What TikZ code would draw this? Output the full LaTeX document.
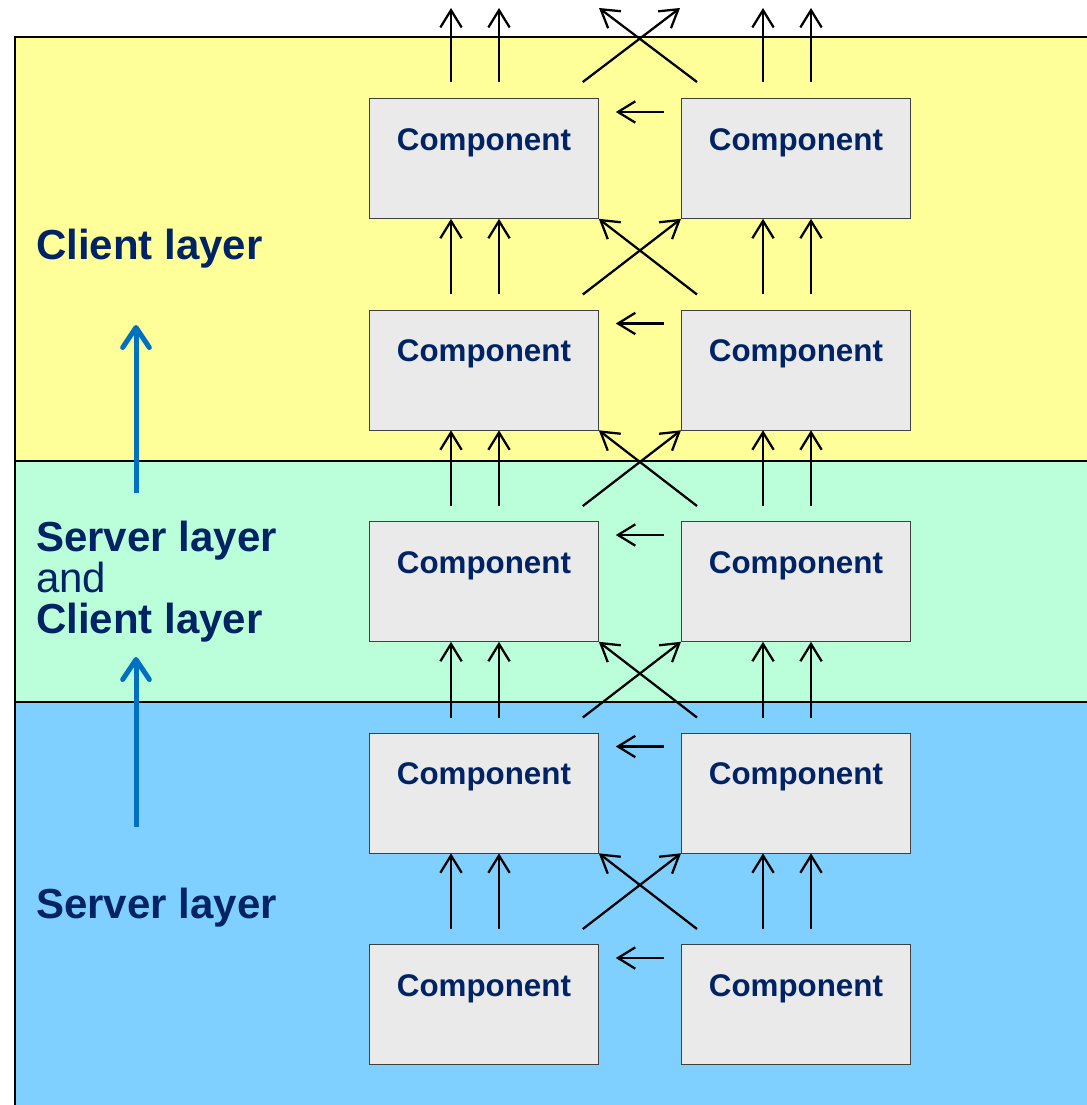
\documentclass[tikz,border=0pt]{standalone}
\usepackage{fontspec}
\setmainfont{Liberation Sans}
\usetikzlibrary{arrows.meta,calc}
\definecolor{clientyellow}{HTML}{FFFF99}
\definecolor{bothgreen}{HTML}{BBFFDA}
\definecolor{serverblue}{HTML}{80D0FF}
\definecolor{boxgray}{HTML}{EAEAEA}
\definecolor{navy}{HTML}{002366}
\definecolor{flowblue}{HTML}{0070C0}

\begin{document}
\begin{tikzpicture}
[x=0.75pt,y=-0.75pt,%
  comp/.style={draw=gray!50!black,fill=boxgray,line width=0.6pt,inner sep=0pt,
    minimum width=171.75pt,text height=39pt,text depth=51pt,
    font=\fontsize{23.5}{25}\selectfont\bfseries,text=navy},%
  arr/.style={-{Straight Barb[length=13pt,width=16pt]},line width=1.7pt},%
  flow/.style={-{Straight Barb[length=15pt,width=20pt,round]},line width=3.75pt,flowblue},%
  layer/.style={draw=black,line width=1.5pt},%
  lbl/.style={anchor=base west,inner sep=0pt,text=navy,font=\fontsize{31.5}{31}\selectfont\bfseries}]
\useasboundingbox (0,0) rectangle (1087,1105);
\clip (0,0) rectangle (1087,1105);
\draw[layer,fill=clientyellow] (15,37) rectangle (1100,461);
\draw[layer,fill=bothgreen] (15,461) rectangle (1100,702);
\draw[layer,fill=serverblue] (15,702) rectangle (1100,1110);
\foreach \r/\y in {1/98,2/309.5,3/521,4/732.5,5/944}{
  \node[comp,anchor=north west] (l\r) at (369,\y) {Component};
  \node[comp,anchor=north west] (r\r) at (681,\y) {Component};
  \draw[arr] ($(r\r.north west)+(-17,14)$) -- ($(l\r.north east)+(17,14)$);
}
\foreach \lo/\up in {2/1,3/2,4/3,5/4}{
  \foreach \s in {l,r}{
    \draw[arr] ($(\s\lo.north west)+(82,-15)$) -- ($(\s\up.south west)+(82,0)$);
    \draw[arr] ($(\s\lo.north west)+(130,-15)$) -- ($(\s\up.south west)+(130,0)$);
  }
  \draw[arr] ($(l\lo.north east)+(-16,-15)$) -- (r\up.south west);
  \draw[arr] ($(r\lo.north west)+(16,-15)$) -- (l\up.south east);
}
\coordinate (outl) at (599,8);
\coordinate (outr) at (680,8);
\foreach \s in {l,r}{
  \draw[arr] ($(\s1.north west)+(82,-16)$) -- ++(0,-74);
  \draw[arr] ($(\s1.north west)+(130,-16)$) -- ++(0,-74);
}
\draw[arr] ($(l1.north east)+(-16,-16)$) -- (outr);
\draw[arr] ($(r1.north west)+(16,-16)$) -- (outl);
\coordinate (flow1a) at (136,493);
\coordinate (flow1b) at (136,325);
\coordinate (flow2a) at (136,827);
\coordinate (flow2b) at (136,657);
\draw[flow] (flow1a) -- (flow1b);
\draw[flow] (flow2a) -- (flow2b);
\node[lbl] (client) at (36,260) {Client layer};
\node[lbl] (server2) at (36,551) {Server layer};
\node[lbl,font=\fontsize{31.5}{31}\selectfont] (and) at (36,592) {and};
\node[lbl] (client2) at (36,633) {Client layer};
\node[lbl] (server) at (36,918) {Server layer};
\end{tikzpicture}
\end{document}
